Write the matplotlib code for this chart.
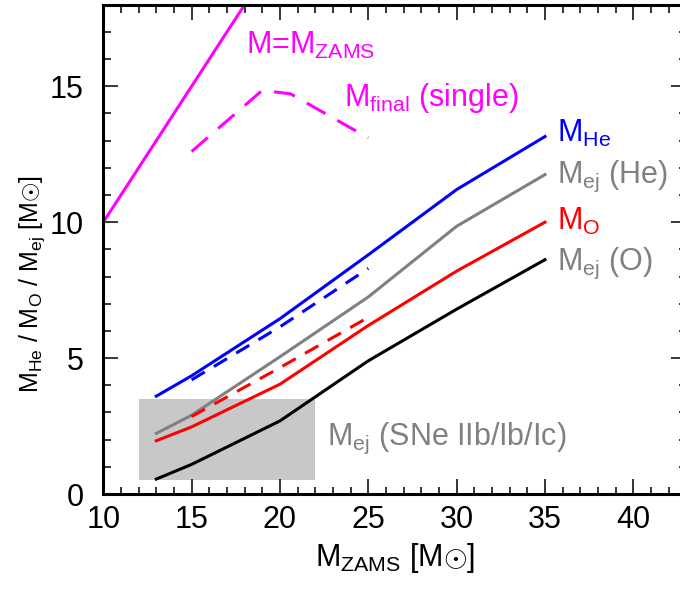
import matplotlib
matplotlib.use('Agg')
import matplotlib.pyplot as plt
from matplotlib.patches import Rectangle

plt.rcParams['font.family'] = ['Liberation Sans', 'DejaVu Sans']
plt.rcParams['mathtext.fontset'] = 'custom'
plt.rcParams['mathtext.rm'] = 'Liberation Sans'
plt.rcParams['mathtext.it'] = 'Liberation Sans'
plt.rcParams['mathtext.bf'] = 'Liberation Sans:bold'

# masses (Msun)
m_zams = [13, 15, 20, 25, 30, 35]
m_he = [3.6, 4.35, 6.45, 8.8, 11.2, 13.15]
m_ej_he = [2.23, 2.9, 5.05, 7.25, 9.85, 11.75]
m_o = [1.96, 2.47, 4.04, 6.2, 8.2, 10.0]
m_ej_o = [0.55, 1.09, 2.69, 4.9, 6.8, 8.62]

m_zams_dash = [15, 20, 25]
m_he_dash = [4.2, 6.15, 8.3]
m_o_dash = [2.85, 4.65, 6.5]

m_single = [15, 19, 20.6, 25]
m_final_single = [12.6, 14.85, 14.72, 13.1]

diag = [10, 20]

# observed ejecta mass box
box_x = (12, 22)
box_y = (0.5, 3.5)

lw = 2.2
fig = plt.figure(figsize=(6.8, 5.95), dpi=100)
ax = fig.add_axes([0.1519, 0.1697, 0.8574, 0.8224])

ax.add_patch(Rectangle((box_x[0], box_y[0]), box_x[1] - box_x[0], box_y[1] - box_y[0],
                       facecolor='#c8c8c8', edgecolor='none', zorder=1))

ax.plot(diag, diag, color='#ff00ff', lw=lw)
ax.plot(m_single, m_final_single, color='#ff00ff', lw=lw, dashes=(7, 4.5))
ax.plot(m_zams, m_he, color='#0000ff', lw=lw)
ax.plot(m_zams, m_ej_he, color='#808080', lw=lw)
ax.plot(m_zams, m_o, color='#ff0000', lw=lw)
ax.plot(m_zams, m_ej_o, color='black', lw=lw)
ax.plot(m_zams_dash, m_he_dash, color='#0000ff', lw=lw, dashes=(5, 3.5))
ax.plot(m_zams_dash, m_o_dash, color='#ff0000', lw=lw, dashes=(5, 3.5))

fs = 22
ax.text(18.1, 16.2, r'M=M$_\mathrm{ZAMS}$', color='#ff00ff', fontsize=fs, va='baseline')
ax.text(23.65, 14.29, r'M$_\mathrm{final}$ (single)', color='#ff00ff', fontsize=fs, va='baseline')
ax.text(35.66, 12.94, r'M$_\mathrm{He}$', color='#0000ff', fontsize=fs, va='baseline')
ax.text(35.66, 11.43, r'M$_\mathrm{ej}$ (He)', color='#808080', fontsize=fs, va='baseline')
ax.text(35.66, 9.72, r'M$_\mathrm{O}$', color='#ff0000', fontsize=fs, va='baseline')
ax.text(35.66, 8.25, r'M$_\mathrm{ej}$ (O)', color='#808080', fontsize=fs, va='baseline')
ax.text(22.64, 1.80, r'M$_\mathrm{ej}$ (SNe IIb/Ib/Ic)', color='#808080', fontsize=fs, va='baseline')

ax.set_xlim(10, 43)
ax.set_ylim(0, 18)
ax.set_xticks([10, 15, 20, 25, 30, 35, 40])
ax.set_xticks(range(10, 44), minor=True)
ax.set_yticks([0, 5, 10, 15])
ax.set_yticks(range(0, 19), minor=True)
ax.tick_params(which='both', direction='in', top=True, right=True, width=1.1)
ax.tick_params(which='major', length=10.8)
ax.tick_params(which='minor', length=5.4)
ax.tick_params(axis='x', labelsize=22, pad=8)
ax.tick_params(axis='y', labelsize=22, pad=14)
for s in ax.spines.values():
    s.set_linewidth(2.2)

ax.set_xlabel(r'M$_\mathrm{ZAMS}$ [M$\odot$]', fontsize=22)
ax.set_ylabel(r'M$_\mathrm{He}$ / M$_\mathrm{O}$ / M$_\mathrm{ej}$ [M$\odot$]', fontsize=18)
ax.yaxis.set_label_coords(-0.097, 0.43)

fig.savefig('out.png', dpi=100)
